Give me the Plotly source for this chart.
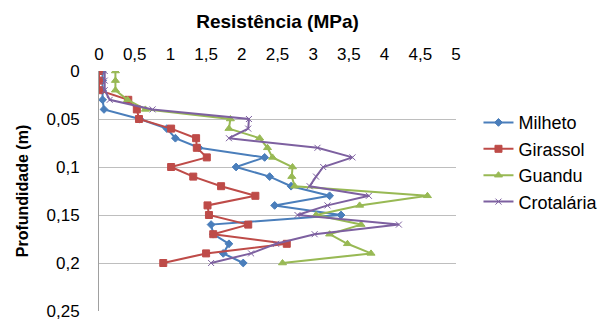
import plotly.graph_objects as go

depth = [0, 0.01, 0.02, 0.03, 0.04, 0.05, 0.06, 0.07, 0.08, 0.09, 0.10,
         0.11, 0.12, 0.13, 0.14, 0.15, 0.16, 0.17, 0.18, 0.19, 0.20]

milheto = [0.05, 0.05, 0.05, 0.05, 0.07, 0.57, 0.95, 1.07, 1.40, 2.32, 1.92,
           2.39, 2.69, 3.23, 2.46, 3.39, 1.57, 1.60, 1.82, 1.74, 2.02]
girassol = [0.0, 0.0, 0.0, 0.41, 0.53, 0.56, 1.01, 1.36, 1.37, 1.51, 1.01,
            1.32, 1.71, 2.19, 1.52, 1.54, 2.09, 1.60, 2.63, 1.50, 0.90]
guandu = [0.23, 0.23, 0.23, 0.40, 0.65, 1.84, 1.82, 2.25, 2.36, 2.43, 2.71,
          2.70, 2.74, 4.60, 3.65, 3.04, 3.67, 3.23, 3.48, 3.81, 2.57]
crotalaria = [0.08, 0.08, 0.08, 0.15, 0.75, 2.10, 2.09, 1.82, 3.06, 3.55, 3.14,
              3.04, 2.95, 3.78, 3.20, 2.78, 4.20, 3.02, 2.48, 2.13, 1.57]

x_ticks = [0, 0.5, 1, 1.5, 2, 2.5, 3, 3.5, 4, 4.5, 5]
x_labels = ["0", "0,5", "1", "1,5", "2", "2,5", "3", "3,5", "4", "4,5", "5"]
y_ticks = [0, 0.05, 0.1, 0.15, 0.2, 0.25]
y_labels = ["0", "0,05", "0,1", "0,15", "0,2", "0,25"]

series = [
    ("Milheto", milheto, "#4A7EBB", "diamond", 6),
    ("Girassol", girassol, "#BE4B48", "square", 7),
    ("Guandu", guandu, "#98B954", "triangle-up", 7),
    ("Crotalária", crotalaria, "#7D60A0", "x-thin", 6),
]

fig = go.Figure()
for name, vals, color, sym, size in series:
    fig.add_trace(go.Scatter(
        x=vals, y=depth, name=name, mode="lines+markers",
        line=dict(color=color, width=2),
        marker=dict(symbol=sym, size=size, color=color,
                    line=dict(color=color, width=1)),
    ))

fig.update_layout(
    width=606, height=320,
    margin=dict(l=91, r=157, t=63, b=17),
    paper_bgcolor="white", plot_bgcolor="white",
    font=dict(family="Liberation Sans, Arial, sans-serif", size=17, color="black"),
    legend=dict(x=1.06, y=0.62, xanchor="left", yanchor="middle",
                font=dict(size=18), tracegroupgap=0, itemwidth=30),
    showlegend=True,
)
fig.update_xaxes(
    side="top", range=[0, 5], tickvals=x_ticks, ticktext=x_labels,
    showgrid=False, zeroline=False, showline=False, ticks="",
    automargin=False, ticklabelstandoff=7, ticklabeloverflow="allow",
    title=dict(text="<b>Resistência (MPa)</b>", font=dict(size=19), standoff=10),
    tickfont=dict(size=17),
)
fig.update_yaxes(
    range=[0.25, 0], tickvals=y_ticks, ticktext=y_labels,
    showgrid=True, gridcolor="#BEBEBE", gridwidth=1, zeroline=False,
    showline=True, linecolor="#A0A0A0", linewidth=1, ticks="",
    automargin=False, ticklabelstandoff=15, ticklabeloverflow="allow",
    title=dict(text="<b>Profundidade (m)</b>", font=dict(size=16), standoff=13),
    tickfont=dict(size=17),
)

fig.write_html("out.html")
